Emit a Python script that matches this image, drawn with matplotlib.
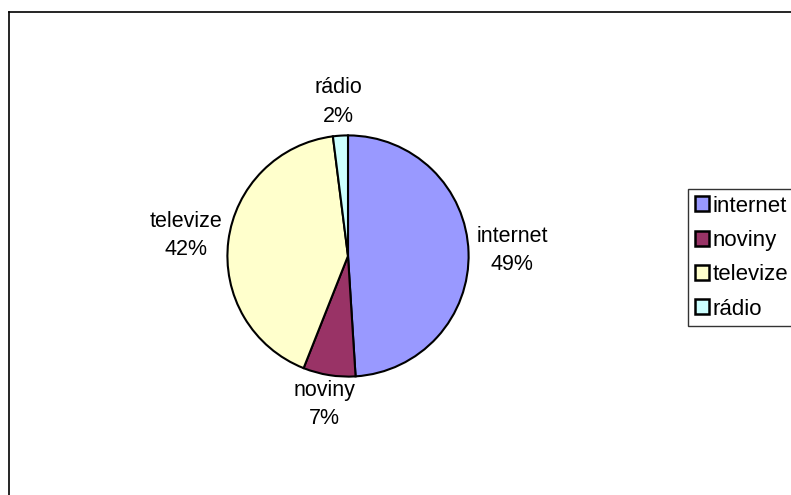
import numpy as np
import matplotlib
matplotlib.use("Agg")
import matplotlib.pyplot as plt
from matplotlib.lines import Line2D

plt.rcParams['font.family'] = ['Liberation Sans', 'DejaVu Sans']

labels = ["internet", "noviny", "televize", "rádio"]
values = [49, 7, 42, 2]
colors = ["#9999FF", "#993366", "#FFFFCC", "#CCFFFF"]
label_dist = [1.36, 1.25, 1.35, 1.28]


def plot():
    fig = plt.figure(figsize=(7.91, 4.95), dpi=100)

    # outer chart frame (only left and top edges are visible)
    fig.add_artist(Line2D([9 / 791, 9 / 791], [0, 1 - 12 / 495], transform=fig.transFigure,
                          color="black", lw=1.2))
    fig.add_artist(Line2D([9 / 791, 1], [1 - 12 / 495, 1 - 12 / 495], transform=fig.transFigure,
                          color="black", lw=1.2))

    ax = fig.add_axes([225 / 791, (495 - 379) / 495, 246 / 791, 246 / 495])
    wedges, _ = ax.pie(values, colors=colors, startangle=90, counterclock=False,
                       wedgeprops=dict(edgecolor="black", linewidth=1.5))
    ax.set_xlim(-1.02, 1.02)
    ax.set_ylim(-1.02, 1.02)
    ax.set_aspect("equal")

    for w, lab, v, d in zip(wedges, labels, values, label_dist):
        mid = np.deg2rad((w.theta1 + w.theta2) / 2)
        ax.text(d * np.cos(mid), d * np.sin(mid), "%s\n%d%%" % (lab, v),
                ha="center", va="center", fontsize=15.5, linespacing=1.45, clip_on=False)

    leg = fig.legend(wedges, labels, loc="upper left",
                     bbox_to_anchor=(688 / 791, 1 - 189 / 495),
                     fontsize=16, frameon=True, fancybox=False,
                     handlelength=0.65, handleheight=0.65, handletextpad=0.15,
                     labelspacing=0.6, borderpad=0.3, borderaxespad=0)
    leg.get_frame().set_edgecolor("black")
    leg.get_frame().set_linewidth(1.0)
    for h in leg.legend_handles:
        h.set_linewidth(1.8)

    fig.savefig("out.png", dpi=100)


if __name__ == "__main__":
    plot()
